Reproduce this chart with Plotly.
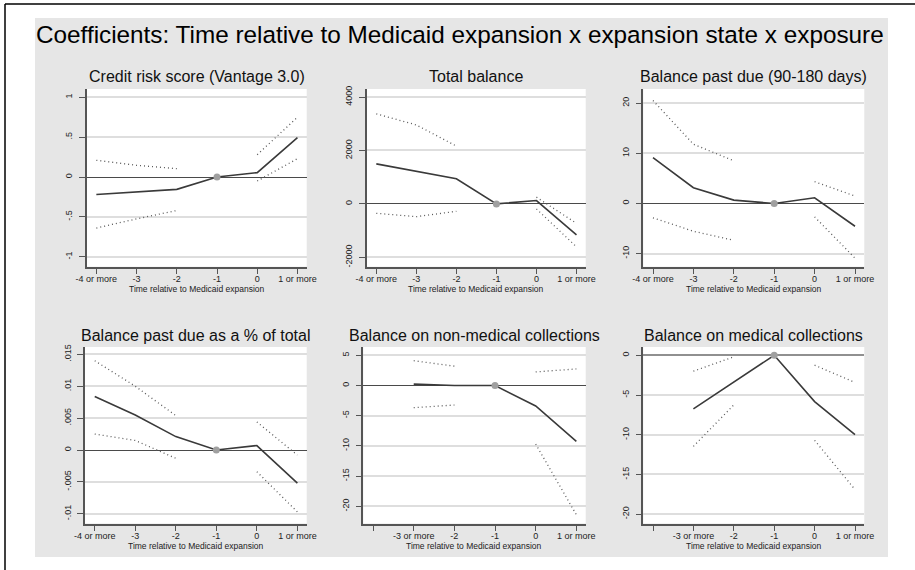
import plotly.graph_objects as go

# ---------------- data ----------------
periods = [-4, -3, -2, -1, 0, 1]
period_labels_full = ["-4 or more", "-3", "-2", "-1", "0", "1 or more"]
period_labels_short = ["", "-3 or more", "-2", "-1", "0", "1 or more"]

main_title = "Coefficients: Time relative to Medicaid expansion x expansion state x exposure"
x_title = "Time relative to Medicaid expansion"

panel_titles = [
    "Credit risk score (Vantage 3.0)",
    "Total balance",
    "Balance past due (90-180 days)",
    "Balance past due as a % of total",
    "Balance on non-medical collections",
    "Balance on medical collections",
]

credit_est = [-0.22, -0.19, -0.155, 0, 0.055, 0.494]
credit_hi = [0.21, 0.147, 0.105, None, 0.28, 0.75]
credit_lo = [-0.64, -0.525, -0.42, None, -0.05, 0.23]

total_est = [1497, 1220, 943, 0, 126, -1157]
total_hi = [3371, 2956, 2164, None, 252, -730]
total_lo = [-352, -478, -277, None, -189, -1610]

pastdue_est = [9.15, 3.14, 0.67, 0, 1.14, -4.54]
pastdue_hi = [20.5, 11.8, 8.5, None, 4.34, 1.47]
pastdue_lo = [-2.87, -5.54, -7.35, None, -2.67, -10.9]

pct_est = [0.0084, 0.0055, 0.0021, 0, 0.0007, -0.0052]
pct_hi = [0.0140, 0.0100, 0.0054, None, 0.0044, -0.0008]
pct_lo = [0.0025, 0.0015, -0.0013, None, -0.0034, -0.0097]

nonmed_est = [None, 0.22, 0, 0, -3.4, -9.27]
nonmed_hi = [None, 4.1, 3.2, None, 2.25, 2.74]
nonmed_lo = [None, -3.67, -3.23, None, -9.7, -21.4]

med_est = [None, -6.75, -3.42, 0, -5.83, -10.0]
med_hi = [None, -2.0, -0.2, None, -1.25, -3.42]
med_lo = [None, -11.46, -6.25, None, -10.7, -16.9]

y_tickvals = [
    [-1, -0.5, 0, 0.5, 1],
    [-2000, 0, 2000, 4000],
    [-10, 0, 10, 20],
    [-0.01, -0.005, 0, 0.005, 0.01, 0.015],
    [-20, -15, -10, -5, 0, 5],
    [-20, -15, -10, -5, 0],
]
y_ticktext = [
    ["-1", "-.5", "0", ".5", "1"],
    ["-2000", "0", "2000", "4000"],
    ["-10", "0", "10", "20"],
    ["-.01", "-.005", "0", ".005", ".01", ".015"],
    ["-20", "-15", "-10", "-5", "0", "5"],
    ["-20", "-15", "-10", "-5", "0"],
]

series = [
    (credit_est, credit_hi, credit_lo),
    (total_est, total_hi, total_lo),
    (pastdue_est, pastdue_hi, pastdue_lo),
    (pct_est, pct_hi, pct_lo),
    (nonmed_est, nonmed_hi, nonmed_lo),
    (med_est, med_hi, med_lo),
]
x_labels = [period_labels_full] * 4 + [period_labels_short] * 2

# ---------------- layout (pixel geometry) ----------------
W, H = 915, 570
# plot boxes: left, right, top, bottom (pixels)
boxes = [
    (86.7, 306.7, 89, 266.7),
    (366.7, 585.7, 89, 266.7),
    (643.3, 864.3, 89, 266.7),
    (85, 306.7, 347, 523.5),
    (363.3, 585.7, 347, 523.5),
    (643.3, 864.3, 347, 523.5),
]
y_ranges = [
    [-1.125, 1.104],
    [-2352, 4302],
    [-12.6, 22.8],
    [-0.01152, 0.01615],
    [-22.85, 6.37],
    [-21.17, 1.04],
]
x_range = [-4.24, 1.23]
title_y = [77, 77, 77, 336, 336, 336]

def fx(px):
    return px / W

def fy(py):
    return 1 - py / H

fig = go.Figure()
GRAY_BG = "#e6e6e6"
LINE_COL = "#3a3a3a"
CI_COL = "#5a5a5a"
FONT = "Liberation Sans, Arial"

annotations = []
for i, ((est, hi, lo), box) in enumerate(zip(series, boxes)):
    n = "" if i == 0 else str(i + 1)
    xa, ya = "x" + n, "y" + n
    fig.add_trace(go.Scatter(x=periods, y=hi, mode="lines", xaxis=xa, yaxis=ya,
                             line=dict(color=CI_COL, width=1.3, dash="1px,3px"),
                             connectgaps=False, showlegend=False, hoverinfo="skip"))
    fig.add_trace(go.Scatter(x=periods, y=lo, mode="lines", xaxis=xa, yaxis=ya,
                             line=dict(color=CI_COL, width=1.3, dash="1px,3px"),
                             connectgaps=False, showlegend=False, hoverinfo="skip"))
    fig.add_trace(go.Scatter(x=periods, y=est, mode="lines", xaxis=xa, yaxis=ya,
                             line=dict(color=LINE_COL, width=1.6),
                             connectgaps=False, showlegend=False))
    ref_x = [p for p, e, h in zip(periods, est, hi) if e is not None and h is None]
    ref_y = [e for e, h in zip(est, hi) if e is not None and h is None]
    fig.add_trace(go.Scatter(x=ref_x, y=ref_y, mode="markers", xaxis=xa, yaxis=ya,
                             marker=dict(color="#a0a0a0", size=7),
                             showlegend=False, cliponaxis=False))

    l, r, t, b = box
    zl_col = "#909090" if i == 5 else "#4a4a4a"
    zl_w = 2.2 if i == 5 else 1.2
    fig.update_layout(**{
        "xaxis" + n: dict(domain=[fx(l), fx(r)], anchor=ya, range=x_range,
                          tickvals=periods, ticktext=x_labels[i], ticks="outside",
                          ticklen=6, tickwidth=1.3, tickcolor="#555",
                          ticklabelstandoff=-3, automargin=False,
                          showline=True, linecolor="#555", linewidth=1.5,
                          showgrid=False, zeroline=False,
                          tickfont=dict(size=9, color="#222", family=FONT)),
        "yaxis" + n: dict(domain=[fy(b), fy(t)], anchor=xa, range=y_ranges[i],
                          tickvals=y_tickvals[i], ticktext=y_ticktext[i], ticks="outside",
                          ticklen=6, tickwidth=1.3, tickcolor="#555", tickangle=-90,
                          ticklabelstandoff=3, automargin=False,
                          showline=True, linecolor="#555", linewidth=1.5,
                          showgrid=True, gridcolor="#dedede", gridwidth=1.6,
                          zeroline=True, zerolinecolor=zl_col, zerolinewidth=zl_w,
                          tickfont=dict(size=9, color="#222", family=FONT)),
    })
    annotations.append(dict(text=panel_titles[i], x=fx((l + r) / 2), y=fy(title_y[i]),
                            xref="paper", yref="paper", showarrow=False,
                            xanchor="center", yanchor="middle",
                            font=dict(size=16, color="#111", family=FONT)))
    annotations.append(dict(text=x_title, x=fx((l + r) / 2), y=fy(b + 22),
                            xref="paper", yref="paper", showarrow=False,
                            xanchor="center", yanchor="middle",
                            font=dict(size=8.5, color="#222", family=FONT)))

annotations.append(dict(text=main_title, x=fx(459.5), y=fy(35), xref="paper", yref="paper",
                        showarrow=False, xanchor="center", yanchor="middle",
                        font=dict(size=24.3, color="#000", family=FONT)))

shapes = [
    # white page outside the gray graph region
    dict(type="rect", xref="paper", yref="paper", x0=0, x1=fx(35), y0=0, y1=1,
         fillcolor="white", line=dict(width=0), layer="below"),
    dict(type="rect", xref="paper", yref="paper", x0=fx(888), x1=1, y0=0, y1=1,
         fillcolor="white", line=dict(width=0), layer="below"),
    dict(type="rect", xref="paper", yref="paper", x0=0, x1=1, y0=fy(18), y1=1,
         fillcolor="white", line=dict(width=0), layer="below"),
    dict(type="rect", xref="paper", yref="paper", x0=0, x1=1, y0=0, y1=fy(557),
         fillcolor="white", line=dict(width=0), layer="below"),
    # page frame
    dict(type="line", xref="paper", yref="paper", x0=fx(5), x1=fx(5), y0=0, y1=fy(4),
         line=dict(color="black", width=1.5)),
    dict(type="line", xref="paper", yref="paper", x0=fx(5), x1=1, y0=fy(4), y1=fy(4),
         line=dict(color="black", width=1.5)),
]

fig.update_layout(width=W, height=H,
                  margin=dict(l=0, r=0, t=0, b=0, pad=0, autoexpand=False),
                  paper_bgcolor=GRAY_BG, plot_bgcolor="white",
                  annotations=annotations, shapes=shapes, showlegend=False,
                  font=dict(family=FONT))

fig.write_html("out.html", config={"displayModeBar": False},
               post_script="document.body.style.margin='0';document.body.style.overflow='hidden';")
